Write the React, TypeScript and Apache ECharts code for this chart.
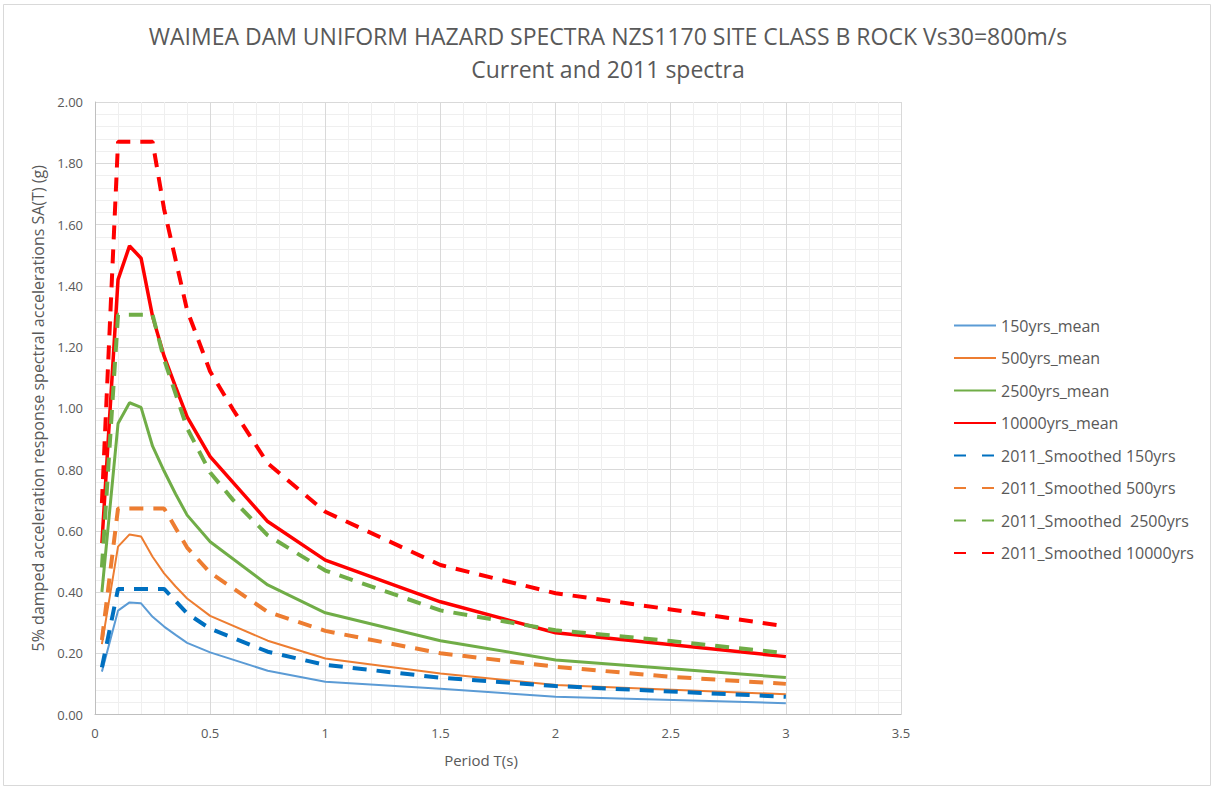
import React, { useEffect, useRef } from "react";
import * as echarts from "echarts";

const TITLE = "WAIMEA DAM UNIFORM HAZARD SPECTRA NZS1170 SITE CLASS B ROCK Vs30=800m/s";
const SUBTITLE = "Current and 2011 spectra";
const X_NAME = "Period T(s)";
const Y_NAME = "5% damped acceleration response spectral accelerations SA(T) (g)";

// Current (mean) spectra
const periodsMean = [0.03, 0.1, 0.15, 0.2, 0.25, 0.3, 0.35, 0.4, 0.5, 0.75, 1, 1.5, 2, 3];
const mean150 = [0.14, 0.339, 0.366, 0.363, 0.319, 0.287, 0.26, 0.234, 0.203, 0.143, 0.107, 0.084, 0.058, 0.037];
const mean500 = [0.23, 0.548, 0.588, 0.581, 0.515, 0.461, 0.418, 0.379, 0.322, 0.241, 0.183, 0.134, 0.096, 0.066];
const mean2500 = [0.4, 0.95, 1.018, 1.003, 0.876, 0.795, 0.72, 0.651, 0.564, 0.423, 0.332, 0.241, 0.178, 0.121];
const mean10000 = [0.56, 1.42, 1.53, 1.49, 1.3, 1.17, 1.07, 0.972, 0.842, 0.63, 0.504, 0.368, 0.267, 0.189];

// 2011 smoothed spectra
const periodsSmLow = [0.03, 0.1, 0.3, 0.4, 0.5, 0.75, 1, 1.5, 2, 2.5, 3];
const sm150 = [0.154, 0.41, 0.41, 0.33, 0.28, 0.205, 0.162, 0.12, 0.093, 0.075, 0.058];
const sm500 = [0.243, 0.673, 0.673, 0.545, 0.463, 0.335, 0.273, 0.2, 0.156, 0.123, 0.1];
const periodsSmHigh = [0.03, 0.1, 0.25, 0.3, 0.4, 0.5, 0.6, 0.75, 1, 1.5, 2, 2.5, 3];
const sm2500 = [0.48, 1.305, 1.305, 1.16, 0.935, 0.79, 0.7, 0.585, 0.47, 0.34, 0.275, 0.24, 0.2];
const sm10000 = [0.69, 1.87, 1.87, 1.65, 1.32, 1.12, 0.995, 0.82, 0.662, 0.488, 0.396, 0.343, 0.288];

const seriesNames = [
  "150yrs_mean",
  "500yrs_mean",
  "2500yrs_mean",
  "10000yrs_mean",
  "2011_Smoothed 150yrs",
  "2011_Smoothed 500yrs",
  "2011_Smoothed  2500yrs",
  "2011_Smoothed 10000yrs",
];

const FONT = "'Liberation Sans Narrow', 'Open Sans', sans-serif";
const TXT = "#595959";

function pairs(xs: number[], ys: number[]) {
  return xs.map((x, i) => [x, ys[i]]);
}

export default function App() {
  const ref = useRef<HTMLDivElement>(null);
  useEffect(() => {
    document.body.style.margin = "0";
    const chart = echarts.init(ref.current!, undefined, { renderer: "svg" });
    const dash = [14, 10];
    const mk = (name: string, data: number[][], color: string, width: number, dashed: boolean) => ({
      name,
      type: "line",
      data,
      symbol: "none",
      showSymbol: false,
      smooth: false,
      lineStyle: { color, width, type: dashed ? dash : "solid", cap: "butt" },
      itemStyle: { color },
      emphasis: { disabled: true },
    });
    chart.setOption({
      animation: false,
      backgroundColor: "#ffffff",
      textStyle: { fontFamily: FONT },
      title: {
        text: TITLE + "\n" + SUBTITLE,
        left: 603,
        textAlign: "center",
        top: 14,
        textStyle: { fontFamily: FONT, fontSize: 23, fontWeight: "normal", color: TXT, lineHeight: 33 },
      },
      grid: { left: 95, right: 313, top: 102, bottom: 74.5, containLabel: false },
      legend: {
        orient: "vertical",
        left: 948,
        top: 312.5,
        itemWidth: 42,
        itemHeight: 14,
        itemGap: 16.5,
        itemStyle: { opacity: 0 },
        textStyle: { fontFamily: FONT, fontSize: 16, color: TXT },
        data: seriesNames.map((name, i) =>
          i >= 4 ? { name, lineStyle: { type: [12, 16] } } : { name }
        ),
      },
      xAxis: {
        type: "value",
        min: 0,
        max: 3.5,
        interval: 0.5,
        name: X_NAME,
        nameLocation: "middle",
        nameGap: 38,
        nameTextStyle: { fontFamily: FONT, fontSize: 15, color: TXT, padding: [0, 34, 0, 0] },
        axisLine: { show: true, lineStyle: { color: "#bfbfbf", width: 1 } },
        axisTick: { show: false },
        axisLabel: { color: TXT, fontSize: 13, margin: 12, fontFamily: FONT },
        splitLine: { show: true, lineStyle: { color: "#d9d9d9", width: 1 } },
        minorTick: { show: false, splitNumber: 5 },
        minorSplitLine: { show: true, lineStyle: { color: "#efefef", width: 1 } },
      },
      yAxis: {
        type: "value",
        min: 0,
        max: 2,
        interval: 0.2,
        name: Y_NAME,
        nameLocation: "middle",
        nameGap: 47,
        nameTextStyle: { fontFamily: FONT, fontSize: 16, color: TXT },
        axisLine: { show: true, lineStyle: { color: "#bfbfbf", width: 1 } },
        axisTick: { show: false },
        axisLabel: { color: TXT, fontSize: 13, margin: 12, fontFamily: FONT, formatter: (v: number) => v.toFixed(2) },
        splitLine: { show: true, lineStyle: { color: "#d9d9d9", width: 1 } },
        minorTick: { show: false, splitNumber: 5 },
        minorSplitLine: { show: true, lineStyle: { color: "#efefef", width: 1 } },
      },
      graphic: [
        {
          type: "rect",
          shape: { x: 3.5, y: 4.5, width: 1207, height: 781 },
          style: { fill: "none", stroke: "#d9d9d9", lineWidth: 1 },
          silent: true,
        },
      ],
      series: [
        mk(seriesNames[0], pairs(periodsMean, mean150), "#5B9BD5", 2, false),
        mk(seriesNames[1], pairs(periodsMean, mean500), "#ED7D31", 2, false),
        mk(seriesNames[2], pairs(periodsMean, mean2500), "#70AD47", 3, false),
        mk(seriesNames[3], pairs(periodsMean, mean10000), "#FF0000", 3.5, false),
        mk(seriesNames[4], pairs(periodsSmLow, sm150), "#0070C0", 4, true),
        mk(seriesNames[5], pairs(periodsSmLow, sm500), "#ED7D31", 4, true),
        mk(seriesNames[6], pairs(periodsSmHigh, sm2500), "#70AD47", 4, true),
        mk(seriesNames[7], pairs(periodsSmHigh, sm10000), "#FF0000", 4, true),
      ],
    });
    return () => chart.dispose();
  }, []);
  return <div ref={ref} style={{ width: 1214, height: 789 }} />;
}
